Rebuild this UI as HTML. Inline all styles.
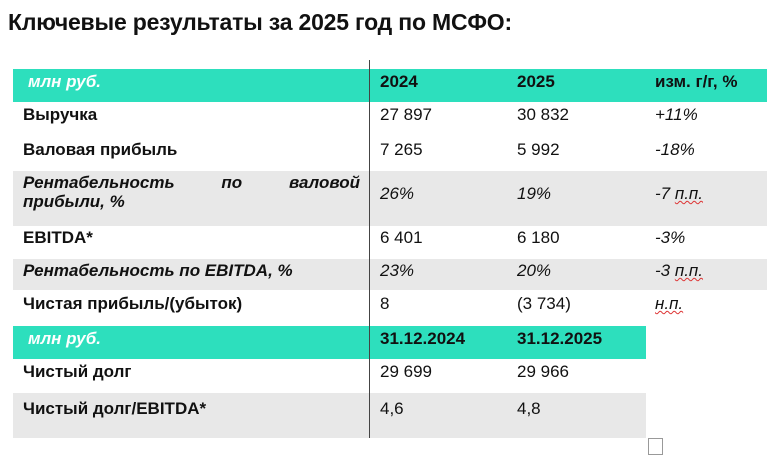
<!DOCTYPE html>
<html><head><meta charset="utf-8"><style>
body{margin:0;width:783px;height:455px;background:#fff;position:relative;overflow:hidden;font-family:"Liberation Sans","Noto Sans CJK SC",sans-serif;color:#111}
div{position:absolute}
.t{font-size:17px;line-height:19px;white-space:nowrap}
.b{font-weight:bold}.i{font-style:italic}
.teal{background:#2ddfbd}.gray{background:#e8e8e8}
.sq{text-decoration:underline wavy #d33;text-decoration-thickness:1px}
</style></head><body>
<div class="b" style="left:8px;top:9px;font-size:23px;letter-spacing:-0.2px">Ключевые результаты за 2025 год по МСФО:</div>
<div class="teal" style="left:13px;top:69px;width:754px;height:33px"></div>
<div class="gray" style="left:13px;top:171px;width:754px;height:55px"></div>
<div class="gray" style="left:13px;top:259px;width:754px;height:31px"></div>
<div class="teal" style="left:13px;top:326px;width:633px;height:33px"></div>
<div class="gray" style="left:13px;top:393px;width:633px;height:45px"></div>
<div style="left:369px;top:60px;width:1px;height:378px;background:#444"></div>
<div style="left:648px;top:438px;width:15px;height:17px;border:1px solid #999;box-sizing:border-box"></div>

<div class="t b i" style="left:28px;top:72px;color:#fff">млн руб.</div>
<div class="t b" style="left:380px;top:72px">2024</div>
<div class="t b" style="left:517px;top:72px">2025</div>
<div class="t b" style="left:655px;top:72px">изм. г/г, %</div>

<div class="t b" style="left:23px;top:105px">Выручка</div>
<div class="t" style="left:380px;top:105px">27 897</div>
<div class="t" style="left:517px;top:105px">30 832</div>
<div class="t i" style="left:655px;top:105px">+11%</div>

<div class="t b" style="left:23px;top:140px">Валовая прибыль</div>
<div class="t" style="left:380px;top:140px">7 265</div>
<div class="t" style="left:517px;top:140px">5 992</div>
<div class="t i" style="left:655px;top:140px">-18%</div>

<div class="t b i" style="left:23px;top:173px;width:337px"><div style="position:relative;display:flex;justify-content:space-between"><span>Рентабельность</span><span>по</span><span>валовой</span></div>прибыли, %</div>
<div class="t i" style="left:380px;top:184px">26%</div>
<div class="t i" style="left:517px;top:184px">19%</div>
<div class="t i" style="left:655px;top:184px">-7 <span class="sq">п.п.</span></div>

<div class="t b" style="left:23px;top:228px">EBITDA*</div>
<div class="t" style="left:380px;top:228px">6 401</div>
<div class="t" style="left:517px;top:228px">6 180</div>
<div class="t i" style="left:655px;top:228px">-3%</div>

<div class="t b i" style="left:23px;top:261px">Рентабельность по EBITDA, %</div>
<div class="t i" style="left:380px;top:261px">23%</div>
<div class="t i" style="left:517px;top:261px">20%</div>
<div class="t i" style="left:655px;top:261px">-3 <span class="sq">п.п.</span></div>

<div class="t b" style="left:23px;top:294px">Чистая прибыль/(убыток)</div>
<div class="t" style="left:380px;top:294px">8</div>
<div class="t" style="left:517px;top:294px">(3 734)</div>
<div class="t i" style="left:655px;top:294px"><span class="sq">н.п.</span></div>

<div class="t b i" style="left:28px;top:329px;color:#fff">млн руб.</div>
<div class="t b" style="left:380px;top:329px">31.12.2024</div>
<div class="t b" style="left:517px;top:329px">31.12.2025</div>

<div class="t b" style="left:23px;top:362px">Чистый долг</div>
<div class="t" style="left:380px;top:362px">29 699</div>
<div class="t" style="left:517px;top:362px">29 966</div>

<div class="t b" style="left:23px;top:399px">Чистый долг/EBITDA*</div>
<div class="t" style="left:380px;top:399px">4,6</div>
<div class="t" style="left:517px;top:399px">4,8</div>
</body></html>
